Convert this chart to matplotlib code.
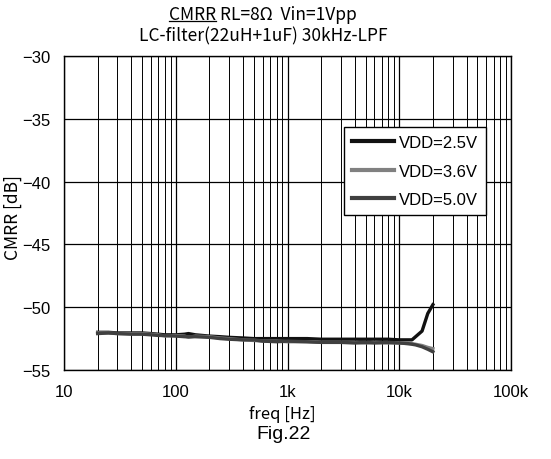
import matplotlib.pyplot as plt
from matplotlib.ticker import FixedLocator, NullFormatter, NullLocator

# data
freq = [20, 25, 30, 40, 50, 60, 70, 80, 100, 120, 130, 150, 200, 250, 300, 400,
        500, 600, 800, 1000, 1500, 2000, 3000, 4000, 5000, 6000, 8000, 10000,
        12000, 13000, 14000, 16000, 18000, 20000]
vdd25 = [-52.0, -52.0, -52.05, -52.05, -52.05, -52.1, -52.15, -52.2, -52.2, -52.15,
         -52.1, -52.2, -52.3, -52.35, -52.4, -52.45, -52.5, -52.5, -52.5, -52.5,
         -52.5, -52.55, -52.55, -52.55, -52.55, -52.55, -52.55, -52.6, -52.6, -52.6,
         -52.35, -51.9, -50.5, -49.8]
vdd36 = [-52.05, -52.05, -52.1, -52.1, -52.1, -52.15, -52.2, -52.3, -52.25, -52.3,
         -52.4, -52.3, -52.35, -52.45, -52.5, -52.6, -52.65, -52.7, -52.7, -52.75,
         -52.75, -52.8, -52.8, -52.8, -52.85, -52.8, -52.85, -52.85, -52.9, -52.9,
         -52.95, -53.05, -53.2, -53.3]
vdd50 = [-52.1, -52.05, -52.1, -52.15, -52.15, -52.2, -52.25, -52.25, -52.3, -52.35,
         -52.35, -52.35, -52.4, -52.5, -52.55, -52.6, -52.6, -52.7, -52.75, -52.7,
         -52.75, -52.8, -52.8, -52.85, -52.8, -52.85, -52.8, -52.85, -52.9, -52.95,
         -53.0, -53.15, -53.35, -53.55]
labels = ['VDD=2.5V', 'VDD=3.6V', 'VDD=5.0V']
colors = ['#111111', '#808080', '#404040']

xticks = [10, 100, 1000, 10000, 100000]
xticklabels = ['10', '100', '1k', '10k', '100k']
yticks = [-30, -35, -40, -45, -50, -55]

plt.rcParams['font.family'] = ['Liberation Sans', 'DejaVu Sans']
jp = ['Noto Sans CJK JP', 'DejaVu Sans']

fig = plt.figure(figsize=(5.51, 4.60), dpi=100)
ax = fig.add_axes([64 / 551, 1 - 371 / 460, 447 / 551, 314 / 460])

for y, lab, c in zip([vdd25, vdd36, vdd50], labels, colors):
    ax.plot(freq, y, color=c, lw=2.4, label=lab, zorder=3)

ax.set_xscale('log')
ax.set_xlim(10, 100000)
ax.set_ylim(-55, -30)
ax.xaxis.set_major_locator(FixedLocator(xticks))
ax.set_xticklabels(xticklabels)
minors = [m * 10 ** k for k in range(1, 5) for m in range(2, 10)]
ax.xaxis.set_minor_locator(FixedLocator(minors))
ax.xaxis.set_minor_formatter(NullFormatter())
ax.set_yticks(yticks)
ax.yaxis.set_minor_locator(NullLocator())
ax.tick_params(which='both', length=0, labelsize=12, pad=10)

ax.grid(True, which='major', color='black', lw=0.9)
ax.grid(True, which='minor', axis='x', color='black', lw=0.7)
for s in ax.spines.values():
    s.set_color('black')
    s.set_linewidth(1.0)

fig.text(282 / 551, 1 - 415 / 460, 'freq [Hz]', ha='center', va='center',
         fontsize=12, family=jp)
fig.text(13 / 551, 1 - 217 / 460, 'CMRR [dB]', ha='center', va='center',
         rotation=90, fontsize=12.5, family=jp)

leg = ax.legend(loc='upper left', bbox_to_anchor=(0.626, 0.774), fontsize=12,
                frameon=True, fancybox=False, edgecolor='black', framealpha=1,
                handlelength=2.5, handletextpad=0.3, labelspacing=0.8,
                borderpad=0.5, borderaxespad=0)
leg.get_frame().set_linewidth(1.0)
for h in leg.legend_handles:
    h.set_linewidth(3)

# title, "CMRR" underlined
t1 = fig.text(0.477, 1 - 15 / 460, 'CMRR RL=8Ω  Vin=1Vpp', ha='center', va='center',
              fontsize=12.5, family=jp)
fig.text(0.477, 1 - 36 / 460, 'LC-filter(22uH+1uF) 30kHz-LPF', ha='center',
         va='center', fontsize=12.5, family=jp)
fig.text(0.515, 1 - 435 / 460, 'Fig.22', ha='center', va='center', fontsize=14)

fig.canvas.draw()
r = fig.canvas.get_renderer()
bb = t1.get_window_extent(r)
tmp = fig.text(0, 0, 'CMRR', fontsize=12.5, family=jp)
wb = tmp.get_window_extent(r)
tmp.remove()
x0 = bb.x0 / fig.bbox.width
x1 = (bb.x0 + wb.width) / fig.bbox.width
yy = (bb.y0 + 2) / fig.bbox.height
fig.add_artist(plt.Line2D([x0, x1], [yy, yy], color='black', lw=0.9,
                          transform=fig.transFigure))

fig.savefig('out.png', dpi=100)
